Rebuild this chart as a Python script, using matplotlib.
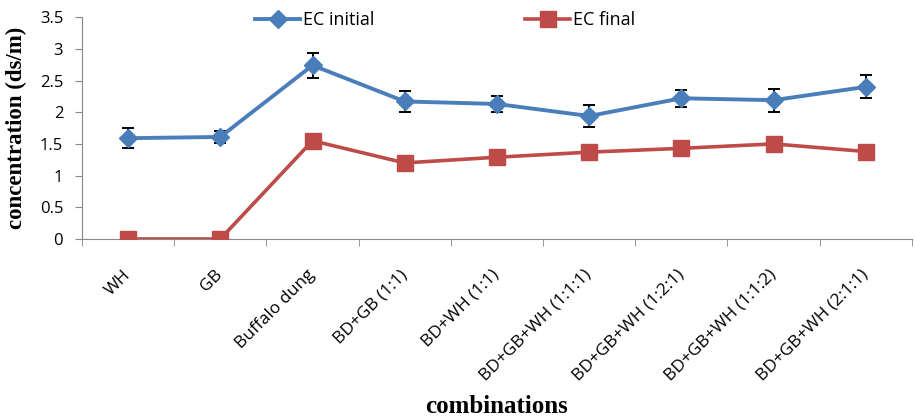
import numpy as np
import matplotlib.pyplot as plt
import matplotlib.transforms as mtransforms
from matplotlib.lines import Line2D

combinations = ["WH", "GB", "Buffalo dung", "BD+GB (1:1)", "BD+WH (1:1)",
                "BD+GB+WH (1:1:1)", "BD+GB+WH (1:2:1)", "BD+GB+WH (1:1:2)",
                "BD+GB+WH (2:1:1)"]
ec_initial = [1.59, 1.61, 2.74, 2.17, 2.13, 1.94, 2.22, 2.19, 2.40]
ec_initial_err = [0.16, 0.10, 0.20, 0.16, 0.12, 0.17, 0.13, 0.18, 0.18]
ec_final = [0.0, 0.0, 1.55, 1.20, 1.29, 1.37, 1.43, 1.50, 1.38]

blue = "#4a7ebb"
red = "#be4b48"
axis_grey = "#888888"

fig = plt.figure(figsize=(9.15, 4.17), dpi=100)
ax = fig.add_axes([0.0896, 0.4269, 0.907, 0.532])

x = np.arange(len(combinations))
ax.errorbar(x, ec_initial, yerr=ec_initial_err, color=blue, lw=2.8,
            marker="D", markersize=9, ecolor="black", elinewidth=1.4,
            capsize=4, capthick=1.4, zorder=3)
ax.plot(x, ec_final, color=red, lw=2.6, marker="s", markersize=11,
        zorder=3)

ax.set_xlim(-0.5, len(combinations) - 0.5)
ax.set_ylim(0, 3.5)
ax.set_yticks(np.arange(0, 3.51, 0.5))
ax.set_yticklabels(["0", "0.5", "1", "1.5", "2", "2.5", "3", "3.5"],
                   family="Open Sans", fontsize=12)

ax.set_xticks(x)
ax.set_xticklabels(combinations, rotation=45, ha="right", va="center",
                   rotation_mode="anchor", family="Open Sans", fontsize=12.5)
# nudge the slanted labels a little to the right
shift = mtransforms.ScaledTranslation(5 / 100, 0, fig.dpi_scale_trans)
for lbl in ax.get_xticklabels():
    lbl.set_transform(lbl.get_transform() + shift)
ax.set_xticks(np.arange(-0.5, len(combinations)), minor=True)
ax.tick_params(axis="x", which="major", length=0, pad=24)
ax.tick_params(axis="x", which="minor", length=5, color=axis_grey)
ax.tick_params(axis="y", length=5, color=axis_grey, pad=8.5)

for side in ["top", "right"]:
    ax.spines[side].set_visible(False)
for side in ["left", "bottom"]:
    ax.spines[side].set_color(axis_grey)

ax.set_ylabel("concentration (ds/m)", family="Liberation Serif",
              fontweight="bold", fontsize=16.5)
ax.yaxis.set_label_coords(-0.066, 0.5)
ax.set_xlabel("combinations", family="Liberation Serif",
              fontweight="bold", fontsize=18)
ax.xaxis.set_label_coords(0.5, -0.705)

# legend entries drawn as plain line + marker
handles = [
    Line2D([], [], color=blue, lw=2.8, marker="D", markersize=9),
    Line2D([], [], color=red, lw=2.6, marker="s", markersize=11),
]
fig.legend(handles, ["EC initial", "EC final"], loc="center left",
           bbox_to_anchor=(255 / 915, 1 - 20 / 417), ncol=2, frameon=False,
           prop={"family": "Open Sans", "size": 13}, borderpad=0,
           borderaxespad=0, columnspacing=8.35, handlelength=2.5,
           handletextpad=0.15)

fig.savefig("out.png", dpi=100)
